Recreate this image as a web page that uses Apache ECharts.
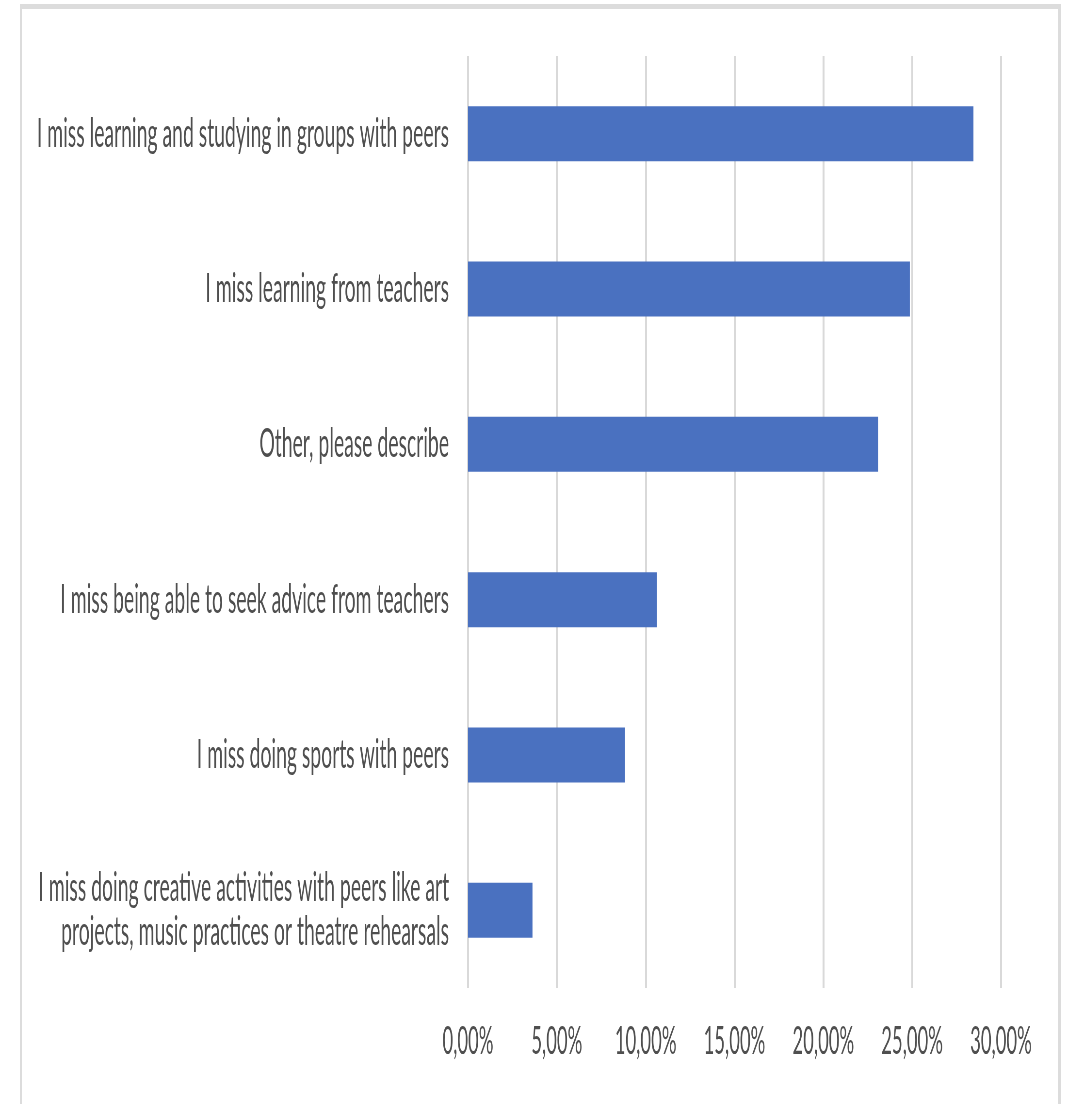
<!DOCTYPE html>
<html>
<head>
<meta charset="utf-8">
<script src="https://cdn.jsdelivr.net/npm/echarts@6/dist/echarts.min.js"></script>
<style>
  html, body { margin: 0; padding: 0; background: #ffffff; }
  body { width: 1068px; height: 1104px; position: relative; overflow: hidden; }
  #frame {
    position: absolute; left: 20px; top: 4px; width: 1036px; height: 1096px;
    border-style: solid; border-color: #dcdcdc;
    border-width: 5px 3px 2px 2px;
  }
  #chart { position: absolute; left: 0; top: 0; height: 1104px; transform-origin: 0 0; }
</style>
</head>
<body>
<div id="frame"></div>
<div id="chart"></div>
<script>
// Survey answers, listed from top to bottom
const categories = [
  'I miss learning and studying in groups with peers',
  'I miss learning from teachers',
  'Other, please describe',
  'I miss being able to seek advice from teachers',
  'I miss doing sports with peers',
  'I miss doing creative activities with peers like art\nprojects, music practices or theatre rehearsals'
];
// Share of respondents, in percent
const shares = [28.45, 24.87, 23.08, 10.63, 8.84, 3.63];
// Value axis ticks
const axisMin = 0;
const axisMax = 30;
const axisStep = 5;

// The chart is laid out wide and squeezed horizontally to get the narrow lettering
const SQUEEZE = 0.485;
const W = 1068, H = 1104;
const el = document.getElementById('chart');
el.style.width = (W / SQUEEZE) + 'px';
el.style.transform = 'scaleX(' + SQUEEZE + ')';

const chart = echarts.init(el, null, { renderer: 'canvas' });
const textColor = '#4f4f4f';
const font = 'Lato, "Open Sans", sans-serif';

chart.setOption({
  animation: false,
  backgroundColor: 'transparent',
  grid: {
    left: 468 / SQUEEZE,
    right: (W - 1001) / SQUEEZE,
    top: 56,
    bottom: H - 988,
    containLabel: false
  },
  xAxis: {
    type: 'value',
    min: axisMin,
    max: axisMax,
    interval: axisStep,
    axisLine: { show: false },
    axisTick: { show: false },
    splitLine: { show: true, lineStyle: { color: '#d9d9d9', width: 4 } },
    axisLabel: {
      color: textColor,
      fontFamily: font,
      fontSize: 38,
      margin: 35,
      formatter: v => v.toFixed(2).replace('.', ',') + '%'
    }
  },
  yAxis: {
    type: 'category',
    data: categories,
    inverse: true,
    axisLine: { show: false },
    axisTick: { show: false },
    axisLabel: {
      color: textColor,
      fontFamily: font,
      fontSize: 40,
      lineHeight: 44,
      margin: 19 / SQUEEZE,
      align: 'right'
    }
  },
  series: [{
    type: 'bar',
    data: shares,
    barWidth: 55,
    itemStyle: { color: '#4a71c0' }
  }]
});
</script>
</body>
</html>
